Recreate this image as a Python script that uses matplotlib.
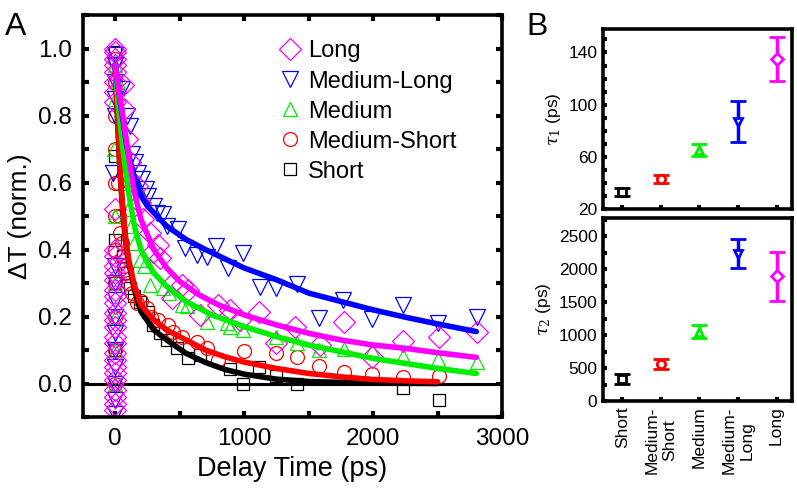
import matplotlib
matplotlib.use("Agg")
import matplotlib.pyplot as plt
from matplotlib.ticker import MultipleLocator, FixedLocator, FormatStrFormatter

plt.rcParams['font.family'] = ['Liberation Sans', 'DejaVu Sans']
plt.rcParams['mathtext.fontset'] = 'dejavuserif'

names = ["Long", "Medium-Long", "Medium", "Medium-Short", "Short"]
colors = ["#ff00ff", "#0000ff", "#00ee00", "#ff0000", "#000000"]
markers = ["D", "v", "^", "o", "s"]

# panel A: measured points (delay in ps, normalized dT)
long_t = [0, 0, 0, 0, 0, 0, 0, 0, 0, 0, 0, 0, 0, 0, 0, 0, 0, 0, 0, 0, 0, 0, 0, 0, 0, 0, 0, 0, 0, 0, 0,
          62, 70, 93, 116, 170, 194, 217, 271, 295, 333, 349, 442, 450, 519, 566, 659, 798, 891, 969,
          1116, 1248, 1395, 1589, 1775, 1992, 2233, 2512, 2806]
long_v = [1.0, 0.99, 0.97, 0.95, 0.93, 0.90, 0.87, 0.84, 0.52, 0.40, 0.38, 0.35, 0.33, 0.31, 0.28, 0.26,
          0.24, 0.21, 0.19, 0.17, 0.14, 0.12, 0.09, 0.07, 0.05, 0.03, 0.01, -0.02, -0.04, -0.06, -0.08,
          0.89, 0.82, 0.73, 0.66, 0.59, 0.54, 0.49, 0.45, 0.393, 0.414, 0.375, 0.255, 0.30, 0.294, 0.279,
          0.204, 0.234, 0.22, 0.189, 0.215, 0.12, 0.168, 0.114, 0.183, 0.08, 0.126, 0.138, 0.153]

mlong_t = [0, 0, 0, 0, 0, -20, 0, 0, 0, 0, 0, 0, 0, 0, 0, 0,
           50, 93, 116, 132, 155, 178, 209, 240, 256, 300, 326, 372, 403, 488, 543, 636, 713, 780,
           876, 992, 1124, 1248, 1411, 1581, 1767, 1992, 2233, 2504, 2806]
mlong_v = [0.98, 0.95, 0.90, 0.85, 0.80, 0.63, 0.35, 0.30, 0.25, 0.20, 0.15, 0.10, 0.05, 0.0, -0.05, -0.09,
           0.88, 0.80, 0.77, 0.685, 0.66, 0.63, 0.61, 0.58, 0.56, 0.53, 0.51, 0.505, 0.47, 0.46, 0.405,
           0.384, 0.378, 0.41, 0.345, 0.39, 0.288, 0.285, 0.297, 0.195, 0.249, 0.192, 0.234, 0.18, 0.20]

med_t = [0, 0, -10, 0, 0, 0, 0, 0,
         20, 40, 60, 80, 100, 120, 150, 190, 220, 271, 372, 420, 519, 560, 713, 868, 891, 992,
         1248, 1411, 1581, 1775, 1992, 2233, 2504, 2806]
med_v = [0.95, 0.85, 0.70, 0.50, 0.30, 0.20, 0.10, 0.0,
         0.90, 0.80, 0.68, 0.60, 0.52, 0.47, 0.42, 0.37, 0.35, 0.294, 0.285, 0.27, 0.234, 0.23, 0.183,
         0.18, 0.168, 0.16, 0.138, 0.12, 0.099, 0.102, 0.099, 0.081, 0.072, 0.063]

mshort_t = [0, 0, 0, 0, 0, 0, 0, 0, 0, 0, 0,
            20, 30, 40, 50, 60, 70, 80, 100, 132, 170, 200, 248, 280, 333, 411, 450, 520, 636, 713,
            798, 1000, 1248, 1411, 1581, 1775, 1992, 2233, 2512]
mshort_v = [0.97, 0.90, 0.80, 0.70, 0.60, 0.50, 0.40, 0.30, 0.20, 0.10, 0.0,
            0.60, 0.50, 0.45, 0.42, 0.38, 0.35, 0.33, 0.30, 0.27, 0.24, 0.245, 0.225, 0.20, 0.19, 0.174,
            0.153, 0.14, 0.123, 0.105, 0.069, 0.096, 0.09, 0.078, 0.051, 0.033, 0.027, 0.018, 0.021]

short_t = [0, 0, 0, 0, 0,
           60, 90, 116, 150, 194, 256, 295, 350, 403, 481, 566, 659, 891, 992, 1116, 1248, 1411,
           2233, 2512]
short_v = [0.99, 0.68, 0.43, 0.30, 0.10,
           0.38, 0.33, 0.285, 0.26, 0.243, 0.213, 0.174, 0.15, 0.129, 0.105, 0.075, 0.084, 0.042, 0.0,
           0.048, 0.021, 0.0, -0.012, -0.048]

# panel A: fitted curves
long_fit_t = [0, 30, 60, 100, 150, 200, 300, 400, 500, 650, 800, 1000, 1250, 1500, 1750, 2000, 2250, 2500, 2800]
long_fit_v = [0.95, 0.87, 0.80, 0.69, 0.57, 0.49, 0.40, 0.345, 0.305, 0.265, 0.235, 0.205, 0.175, 0.15,
              0.13, 0.115, 0.105, 0.092, 0.078]
mlong_fit_t = [0, 40, 90, 150, 200, 250, 400, 550, 700, 1000, 1250, 1500, 1750, 2000, 2250, 2500, 2800]
mlong_fit_v = [0.95, 0.84, 0.71, 0.61, 0.56, 0.53, 0.47, 0.43, 0.40, 0.345, 0.31, 0.27, 0.245, 0.22,
               0.198, 0.178, 0.155]
med_fit_t = [0, 25, 60, 100, 150, 200, 300, 400, 550, 750, 1000, 1250, 1500, 1750, 2000, 2250, 2500, 2800]
med_fit_v = [0.95, 0.83, 0.70, 0.58, 0.47, 0.40, 0.33, 0.29, 0.245, 0.205, 0.17, 0.14, 0.115, 0.095,
             0.075, 0.06, 0.045, 0.03]
mshort_fit_t = [0, 20, 40, 60, 80, 100, 150, 200, 300, 400, 550, 700, 850, 1000, 1250, 1500, 1750, 2000, 2250, 2500]
mshort_fit_v = [0.95, 0.78, 0.62, 0.52, 0.44, 0.38, 0.29, 0.235, 0.19, 0.16, 0.13, 0.10, 0.08, 0.064,
                0.045, 0.03, 0.02, 0.012, 0.008, 0.005]
short_fit_t = [0, 20, 40, 60, 80, 100, 150, 200, 300, 400, 550, 700, 850, 1000, 1250, 1500, 2000, 2500]
short_fit_v = [0.95, 0.78, 0.62, 0.51, 0.43, 0.37, 0.28, 0.215, 0.16, 0.13, 0.09, 0.063, 0.042, 0.028,
               0.013, 0.006, 0.001, 0.0]

# panel B: time constants (order: Short ... Long)
cats = ["Short", "Medium-\nShort", "Medium", "Medium-\nLong", "Long"]
tau1 = [33, 43, 65, 87, 135]
tau1_err = [3, 3, 4.5, 16, 17]
tau2 = [335, 567, 1055, 2237, 1893]
tau2_err = [70, 75, 95, 218, 375]

pts_t = [long_t, mlong_t, med_t, mshort_t, short_t]
pts_v = [long_v, mlong_v, med_v, mshort_v, short_v]
fit_t = [long_fit_t, mlong_fit_t, med_fit_t, mshort_fit_t, short_fit_t]
fit_v = [long_fit_v, mlong_fit_v, med_fit_v, mshort_fit_v, short_fit_v]

fig = plt.figure(figsize=(7.97, 4.88), dpi=100)
axA = fig.add_axes([0.104, 0.1455, 0.526, 0.8235])
axB1 = fig.add_axes([0.7566, 0.5717, 0.2371, 0.3689])
axB2 = fig.add_axes([0.7566, 0.1783, 0.2371, 0.375])

msizes = [11, 11, 10, 10, 9]
for i in range(5)[::-1]:
    axA.plot(pts_t[i], pts_v[i], linestyle="none", marker=markers[i], ms=msizes[i],
             mfc="none", mec=colors[i], mew=0.9, label=names[i])
axA.axhline(0, color="black", lw=2.2, zorder=1)
for i in range(5)[::-1]:
    axA.plot(fit_t[i], fit_v[i], color=colors[i], lw=4, solid_capstyle="round", zorder=3)

axA.set_xlim(-250, 3000)
axA.set_ylim(-0.1, 1.1)
axA.xaxis.set_major_locator(MultipleLocator(1000))
axA.xaxis.set_minor_locator(MultipleLocator(500))
axA.yaxis.set_major_locator(MultipleLocator(0.2))
axA.yaxis.set_minor_locator(MultipleLocator(0.1))
axA.yaxis.set_major_formatter(FormatStrFormatter("%.1f"))
axA.tick_params(which="both", direction="in", length=4, width=3, top=True, right=True,
                labelsize=17.5, pad=8)
axA.set_xlabel("Delay Time (ps)", fontsize=19.5)
axA.set_ylabel("ΔT (norm.)", fontsize=19, labelpad=4)
handles, labels = axA.get_legend_handles_labels()
axA.legend(handles[::-1], labels[::-1], loc="upper left", bbox_to_anchor=(0.43, 0.978),
           frameon=False, fontsize=17, handlelength=0.9, handletextpad=0.3,
           labelspacing=0.34, borderpad=0.2)

for ax in (axA, axB1, axB2):
    for s in ax.spines.values():
        s.set_linewidth(2.6)

xpos = list(range(1, 6))
bcolors = colors[::-1]
bmarkers = markers[::-1]
for i in range(5):
    axB1.errorbar(xpos[i], tau1[i], yerr=tau1_err[i], color=bcolors[i], marker=bmarkers[i],
                  ms=6, mfc="white", mec=bcolors[i], mew=2, elinewidth=2.5, capsize=6, capthick=2.5)
    axB2.errorbar(xpos[i], tau2[i], yerr=tau2_err[i], color=bcolors[i], marker=bmarkers[i],
                  ms=6, mfc="white", mec=bcolors[i], mew=2, elinewidth=2.5, capsize=6, capthick=2.5)

for ax in (axB1, axB2):
    ax.set_xlim(0.5, 5.4)
    ax.set_xticks(xpos)
    ax.tick_params(which="both", direction="in", length=3, width=3, labelsize=12.5, pad=4)

axB1.set_ylim(20, 158)
axB1.yaxis.set_major_locator(FixedLocator([20, 60, 100, 140]))
axB1.yaxis.set_minor_locator(MultipleLocator(10))
axB1.set_xticklabels([])
axB1.set_ylabel(r"$\tau_1$ (ps)", fontsize=12.5)

axB2.set_ylim(0, 2780)
axB2.yaxis.set_major_locator(MultipleLocator(500))
axB2.yaxis.set_minor_locator(MultipleLocator(250))
axB2.set_xticklabels(cats, rotation=90, fontsize=12.5, multialignment="center")
axB2.set_ylabel(r"$\tau_2$ (ps)", fontsize=12.5)

fig.text(0.006, 0.975, "A", fontsize=23, va="top", ha="left")
fig.text(0.661, 0.975, "B", fontsize=23, va="top", ha="left")

fig.savefig("out.png", dpi=100)
